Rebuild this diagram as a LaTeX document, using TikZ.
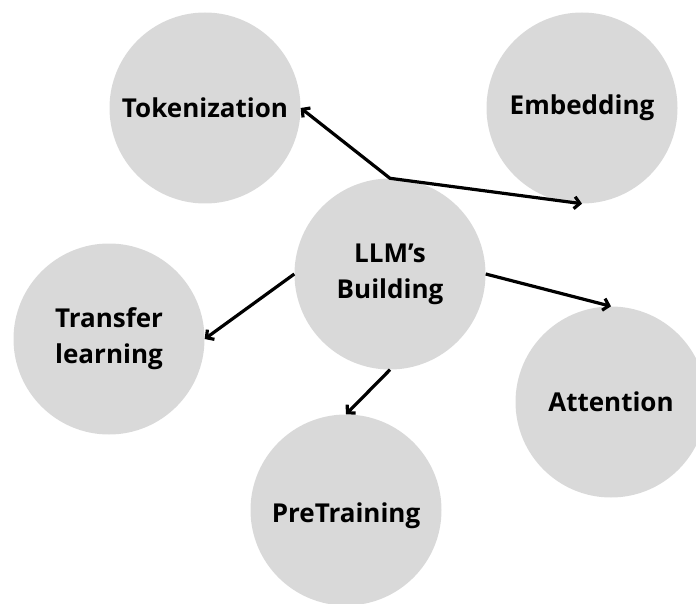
\documentclass[tikz,border=0pt]{standalone}
\usepackage{fontspec}
\setmainfont{Open Sans}
\usetikzlibrary{arrows.meta}
\definecolor{bubble}{HTML}{D9D9D9}
\tikzset{
  barb/.tip={Straight Barb[length=5.5pt,width=12pt,line width=3.2pt]},
  topic/.style={circle, fill=bubble, minimum size=191pt, inner sep=0pt,
    align=center, font=\bfseries\fontsize{26}{36}\selectfont, text=black},
  link/.style={line width=3.2pt, line join=round, -barb}
}
\begin{document}
\begin{tikzpicture}[x=1pt,y=-1pt]
  \useasboundingbox (0,0) rectangle (696,604);
  \clip (0,0) rectangle (696,604);
  \node[topic] (tok) at (205,108) {Tokenization};
  \node[topic] (emb) at (582,108) {Embedding};
  \node[topic] (llm) at (390,274) {LLM’s\\Building};
  \node[topic] (tl)  at (109,339) {Transfer\\learning};
  \node[topic] (att) at (611,402) {Attention};
  % label sits a little below the centre of this bubble
  \node[topic, text height=31pt, text depth=6pt] (pre) at (346,510) {PreTraining};

  \draw[link, barb-barb] (tok.east) -- (llm.north) -- (emb.south);
  \draw[link] (llm.east) -- (att.north);
  \draw[link] (llm.west) -- (tl.east);
  \draw[link] (llm.south) -- (pre.north);
\end{tikzpicture}
\end{document}
